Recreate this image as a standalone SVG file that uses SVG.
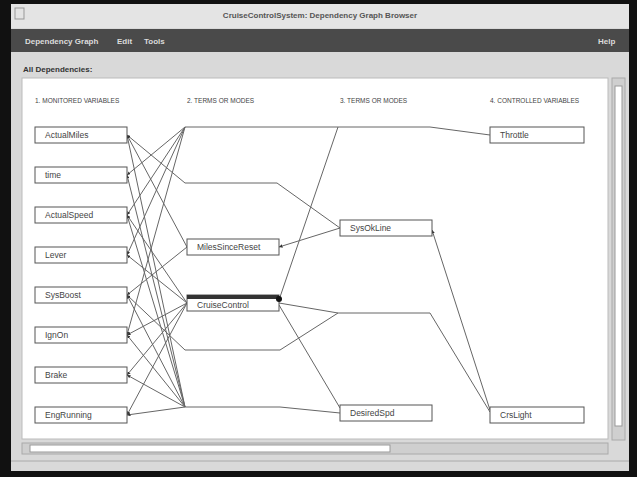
<svg xmlns="http://www.w3.org/2000/svg" width="637" height="477" viewBox="0 0 637 477">
<defs>
<style>
.box{fill:#fff;stroke:#555;stroke-width:1}
.lbl{font-family:"Liberation Sans",Arial,sans-serif;font-size:8.5px;fill:#444}
.hdr{font-family:"Liberation Sans",Arial,sans-serif;font-size:6.5px;fill:#444}
.c{fill:none;stroke:#666;stroke-width:1}
.a{marker-start:url(#ah)}
.menu{font-family:"Liberation Sans",Arial,sans-serif;font-size:8px;font-weight:bold;fill:#dcdcdc}
</style>
<marker id="ah" viewBox="0 0 6 6" refX="6" refY="3" markerWidth="3.5" markerHeight="3.5" orient="auto-start-reverse">
<path d="M0,0 L6,3 L0,6 z" fill="#333"/>
</marker>
</defs>
<!-- window frame -->
<rect x="0" y="0" width="637" height="477" fill="#111"/>
<rect x="11" y="4" width="618" height="467" fill="#d9d9d9"/>
<rect x="11" y="4" width="618" height="24" fill="#e4e4e4"/>
<rect x="15" y="8" width="9" height="11" fill="none" stroke="#999"/>
<text x="320" y="18" text-anchor="middle" font-family="Liberation Sans, Arial, sans-serif" font-size="8" font-weight="bold" fill="#555">CruiseControlSystem: Dependency Graph Browser</text>
<rect x="11" y="29" width="618" height="23" fill="#4a4a4a"/>
<text class="menu" x="25" y="44">Dependency Graph</text>
<text class="menu" x="117" y="44">Edit</text>
<text class="menu" x="144" y="44">Tools</text>
<text class="menu" x="598" y="44">Help</text>
<text x="23" y="72" font-family="Liberation Sans, Arial, sans-serif" font-size="8" font-weight="bold" fill="#333">All Dependencies:</text>
<!-- canvas -->
<rect x="22" y="78" width="586" height="361" fill="#fff" stroke="#bbb"/>
<!-- vertical scrollbar -->
<rect x="612" y="78" width="13" height="362" fill="#cfcfcf" stroke="#aaa"/>
<rect x="615" y="86" width="7" height="340" fill="#fff" stroke="#999"/>
<!-- horizontal scrollbar -->
<rect x="22" y="443" width="586" height="11" fill="#cfcfcf" stroke="#aaa"/>
<rect x="30" y="445" width="360" height="7" fill="#fff" stroke="#999"/>
<line x1="11" y1="461" x2="629" y2="461" stroke="#aaa"/>
<!-- headers -->
<text class="hdr" x="35" y="103">1. MONITORED VARIABLES</text>
<text class="hdr" x="187" y="103">2. TERMS OR MODES</text>
<text class="hdr" x="340" y="103">3. TERMS OR MODES</text>
<text class="hdr" x="490" y="103">4. CONTROLLED VARIABLES</text>
<!-- connectors -->
<g id="connectors">
<polyline class="c a" points="127,135 185,183 277,183 340,228"/>
<polyline class="c a" points="127,135 187,247"/>
<polyline class="c a" points="127,135 185,407"/>
<polyline class="c a" points="127,175 185,127"/>
<polyline class="c a" points="127,175 185,407"/>
<polyline class="c a" points="127,215 185,127"/>
<polyline class="c a" points="127,215 187,303"/>
<polyline class="c a" points="127,215 185,407"/>
<polyline class="c a" points="127,255 185,127"/>
<polyline class="c a" points="127,255 187,303"/>
<polyline class="c a" points="127,295 187,247"/>
<polyline class="c a" points="127,295 185,350 280,350 338,313 430,313 490,412"/>
<polyline class="c a" points="127,295 185,407"/>
<polyline class="c a" points="127,335 185,127"/>
<polyline class="c a" points="127,335 187,303"/>
<polyline class="c a" points="127,335 185,407"/>
<polyline class="c a" points="127,375 187,303"/>
<polyline class="c a" points="127,375 185,407"/>
<polyline class="c a" points="127,415 187,303"/>
<polyline class="c a" points="127,415 185,407 280,407 340,413"/>
<polyline class="c" points="185,127 430,127 490,135"/>
<polyline class="c" points="279,300 338,127"/>
<polyline class="c a" points="279,247 340,228"/>
<polyline class="c" points="279,303 338,313"/>
<polyline class="c" points="279,305 340,408"/>
<polyline class="c a" points="432,230 490,410"/>
</g>
<!-- nodes -->
<g id="n-actualmiles"><rect class="box" x="35" y="127" width="92" height="16"/><text class="lbl" x="45" y="138">ActualMiles</text></g>
<g id="n-time"><rect class="box" x="35" y="167" width="92" height="16"/><text class="lbl" x="45" y="178">time</text></g>
<g id="n-actualspeed"><rect class="box" x="35" y="207" width="92" height="16"/><text class="lbl" x="45" y="218">ActualSpeed</text></g>
<g id="n-lever"><rect class="box" x="35" y="247" width="92" height="16"/><text class="lbl" x="45" y="258">Lever</text></g>
<g id="n-sysboost"><rect class="box" x="35" y="287" width="92" height="16"/><text class="lbl" x="45" y="298">SysBoost</text></g>
<g id="n-ignon"><rect class="box" x="35" y="327" width="92" height="16"/><text class="lbl" x="45" y="338">IgnOn</text></g>
<g id="n-brake"><rect class="box" x="35" y="367" width="92" height="16"/><text class="lbl" x="45" y="378">Brake</text></g>
<g id="n-engrunning"><rect class="box" x="35" y="407" width="92" height="16"/><text class="lbl" x="45" y="418">EngRunning</text></g>
<g id="n-milessincereset"><rect class="box" x="187" y="239" width="92" height="16"/><text class="lbl" x="197" y="250">MilesSinceReset</text></g>
<g id="n-cruisecontrol"><rect class="box" x="187" y="295" width="92" height="16"/><rect x="187" y="295" width="92" height="4" fill="#333"/><circle cx="279" cy="299" r="3" fill="#111"/><text class="lbl" x="197" y="307.5">CruiseControl</text></g>
<g id="n-sysokline"><rect class="box" x="340" y="220" width="92" height="16"/><text class="lbl" x="350" y="231">SysOkLine</text></g>
<g id="n-desiredspd"><rect class="box" x="340" y="405" width="92" height="16"/><text class="lbl" x="350" y="416">DesiredSpd</text></g>
<g id="n-throttle"><rect class="box" x="490" y="127" width="94" height="16"/><text class="lbl" x="500" y="138">Throttle</text></g>
<g id="n-crslight"><rect class="box" x="490" y="407" width="94" height="16"/><text class="lbl" x="500" y="418">CrsLight</text></g>
</svg>
